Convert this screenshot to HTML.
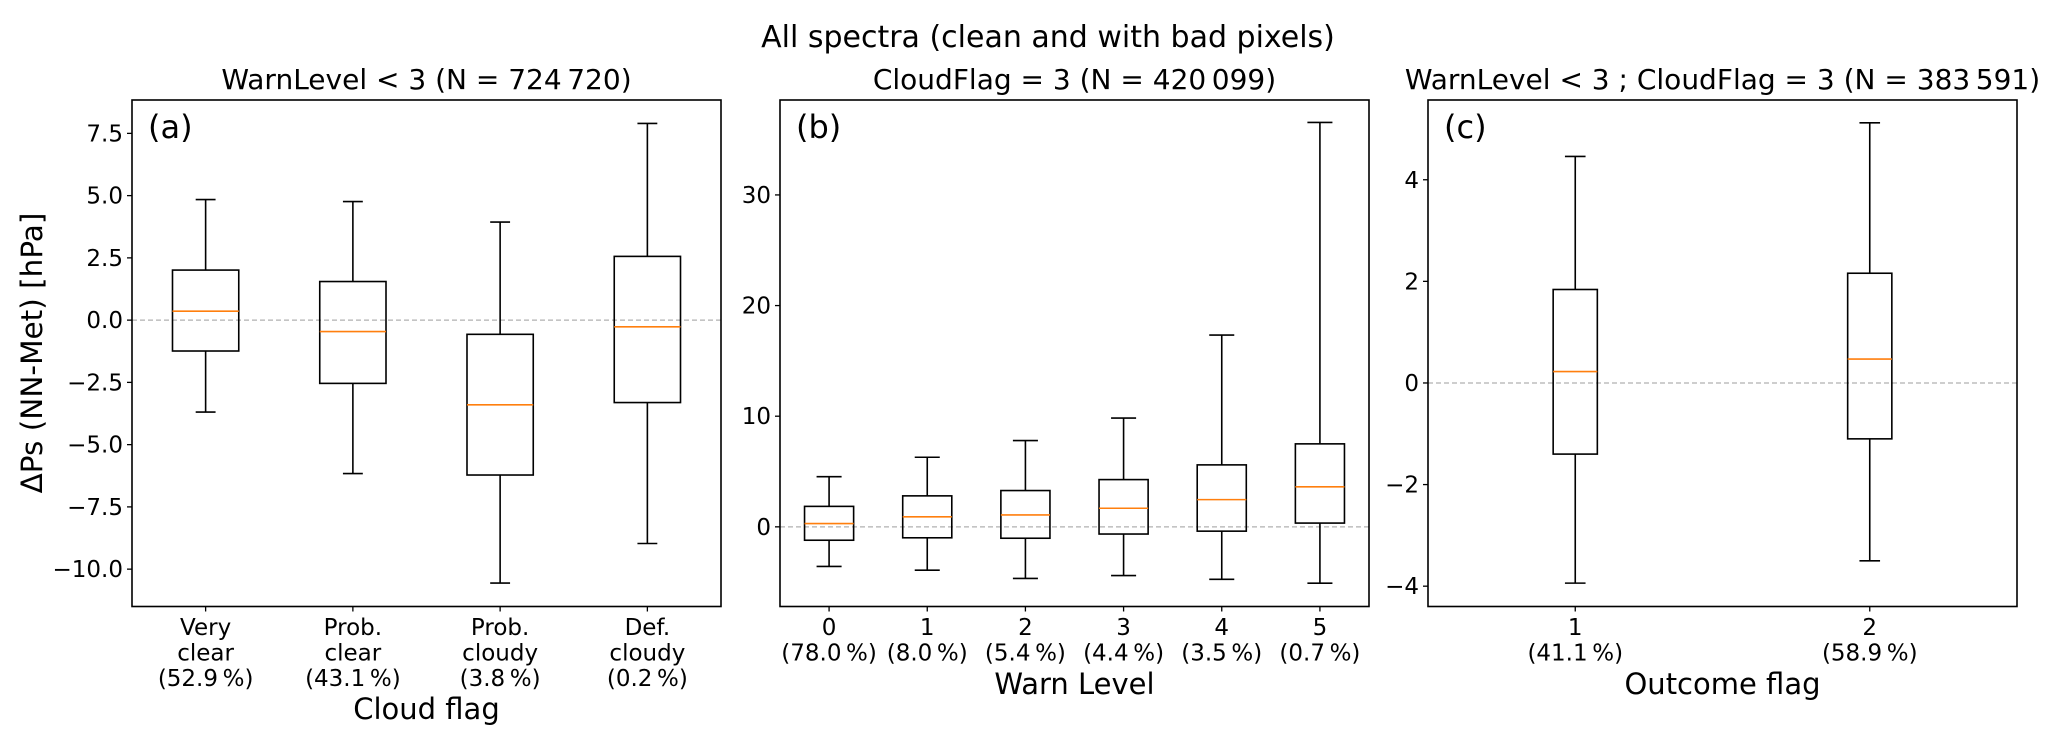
<!DOCTYPE html>
<html><head><meta charset="utf-8"><style>
html,body{margin:0;padding:0;background:#fff;}
svg text{font-family:"DejaVu Sans","Liberation Sans",sans-serif;fill:#000;}
</style></head><body>
<svg id="fig" width="2067" height="748" viewBox="0 0 2067 748" xmlns="http://www.w3.org/2000/svg">
<text x="1048" y="47" font-size="30" text-anchor="middle">All spectra (clean and with bad pixels)</text>
<text transform="translate(42,353) rotate(-90)" font-size="29.5" text-anchor="middle">ΔPs (NN-Met) [hPa]</text>
</svg>
<script>
// Panel (a)
const catsA = [["Very","clear","(52.9\u2009%)"],["Prob.","clear","(43.1\u2009%)"],["Prob.","cloudy","(3.8\u2009%)"],["Def.","cloudy","(0.2\u2009%)"]];
const lowA = [-3.69,-6.16,-10.56,-8.97];
const q1A = [-1.24,-2.54,-6.22,-3.31];
const medA = [0.36,-0.46,-3.40,-0.27];
const q3A = [2.01,1.55,-0.57,2.56];
const highA = [4.84,4.76,3.94,7.90];
const ticksA = [-10,-7.5,-5,-2.5,0,2.5,5,7.5];
const tickLabelsA = ["\u221210.0","\u22127.5","\u22125.0","\u22122.5","0.0","2.5","5.0","7.5"];
// Panel (b)
const catsB = [["0","(78.0\u2009%)"],["1","(8.0\u2009%)"],["2","(5.4\u2009%)"],["3","(4.4\u2009%)"],["4","(3.5\u2009%)"],["5","(0.7\u2009%)"]];
const lowB = [-3.58,-3.92,-4.66,-4.40,-4.74,-5.09];
const q1B = [-1.21,-0.99,-1.03,-0.65,-0.39,0.34];
const medB = [0.30,0.91,1.08,1.68,2.46,3.62];
const q3B = [1.85,2.80,3.28,4.27,5.60,7.50];
const highB = [4.53,6.29,7.80,9.83,17.33,36.55];
const ticksB = [0,10,20,30];
const tickLabelsB = ["0","10","20","30"];
// Panel (c)
const catsC = [["1","(41.1\u2009%)"],["2","(58.9\u2009%)"]];
const lowC = [-3.94,-3.50];
const q1C = [-1.40,-1.10];
const medC = [0.225,0.47];
const q3C = [1.84,2.16];
const highC = [4.46,5.12];
const ticksC = [-4,-2,0,2,4];
const tickLabelsC = ["\u22124","\u22122","0","2","4"];

const NS="http://www.w3.org/2000/svg";
const svg=document.getElementById('fig');
function mk(tag,attrs,parent){const e=document.createElementNS(NS,tag);for(const k in attrs)e.setAttribute(k,attrs[k]);(parent||svg).appendChild(e);return e;}

function panel(o){
  const g=mk('g',{});
  
  
  const L=o.x0,R=o.x1,T=100,B=606.5;
  const sy=v=>T+(o.ymax-v)/(o.ymax-o.ymin)*(B-T);
  const n=o.cats.length;
  const sx=i=>L+(i+0.5)/n*(R-L);
  const unit=(R-L)/n;
  const z=mk('line',{x1:L,x2:R,y1:sy(0),y2:sy(0),stroke:'#b0b0b0','stroke-width':1.3,'stroke-dasharray':'5,3'},g);
  
  
  for(let i=0;i<n;i++){
    const bg=mk('g',{},g);
    
    
    const cx=sx(i),bw=o.bw*unit,cw=o.cw*unit;
    const st={stroke:'#000','stroke-width':1.6,fill:'none'};
    mk('line',Object.assign({x1:cx,x2:cx,y1:sy(o.high[i]),y2:sy(o.q3[i])},st),bg);
    mk('line',Object.assign({x1:cx,x2:cx,y1:sy(o.q1[i]),y2:sy(o.low[i])},st),bg);
    mk('line',Object.assign({x1:cx-cw/2,x2:cx+cw/2,y1:sy(o.high[i]),y2:sy(o.high[i])},st),bg);
    mk('line',Object.assign({x1:cx-cw/2,x2:cx+cw/2,y1:sy(o.low[i]),y2:sy(o.low[i])},st),bg);
    mk('rect',Object.assign({x:cx-bw/2,y:sy(o.q3[i]),width:bw,height:sy(o.q1[i])-sy(o.q3[i])},st),bg);
    const m=mk('line',{x1:cx-bw/2,x2:cx+bw/2,y1:sy(o.med[i]),y2:sy(o.med[i]),stroke:'#ff7f0e','stroke-width':1.6},bg);
    
    
    mk('line',{x1:cx,x2:cx,y1:B,y2:B+5,stroke:'#000','stroke-width':1.3},g);
    const t=mk('text',{x:cx,'font-size':23,'text-anchor':'middle'},g);
    
    
    o.cats[i].forEach((s,j)=>{const ts=mk('tspan',{x:cx,y:635+j*25.5},t);ts.textContent=s;});
  }
  o.ticks.forEach((v,j)=>{
    const y=sy(v);
    mk('line',{x1:L-5,x2:L,y1:y,y2:y,stroke:'#000','stroke-width':1.3},g);
    const t=mk('text',{x:L-9,y:y+8,'font-size':23,'text-anchor':'end'},g);
    
    
    t.textContent=o.tl[j];
  });
  const f=mk('rect',{x:L,y:T,width:R-L,height:B-T,fill:'none',stroke:'#000','stroke-width':1.6},g);
  
  
  const ti=mk('text',{x:(L+R)/2,y:89,'font-size':28,'text-anchor':'middle'},g);
  
  
  ti.textContent=o.title;
  const pl=mk('text',{x:L+16,y:138,'font-size':32},g);
  
  
  pl.textContent='('+o.key+')';
  const xl=mk('text',{x:(L+R)/2,y:o.xly,'font-size':29,'text-anchor':'middle'},g);
  
  
  xl.textContent=o.xlabel;
}
panel({name:'panel-a',key:'a',x0:132,x1:721,ymin:-11.5,ymax:8.84,cats:catsA,low:lowA,q1:q1A,med:medA,q3:q3A,high:highA,ticks:ticksA,tl:tickLabelsA,bw:0.45,cw:0.135,title:'WarnLevel < 3 (N = 724\u2009720)',xlabel:'Cloud flag',xly:719});
panel({name:'panel-b',key:'b',x0:780,x1:1369,ymin:-7.2,ymax:38.58,cats:catsB,low:lowB,q1:q1B,med:medB,q3:q3B,high:highB,ticks:ticksB,tl:tickLabelsB,bw:0.5,cw:0.255,title:'CloudFlag = 3 (N = 420\u2009099)',xlabel:'Warn Level',xly:694});
panel({name:'panel-c',key:'c',x0:1428,x1:2017,ymin:-4.40,ymax:5.57,cats:catsC,low:lowC,q1:q1C,med:medC,q3:q3C,high:highC,ticks:ticksC,tl:tickLabelsC,bw:0.15,cw:0.07,title:'WarnLevel < 3 ; CloudFlag = 3 (N = 383\u2009591)',xlabel:'Outcome flag',xly:694});
</script>
</body></html>
